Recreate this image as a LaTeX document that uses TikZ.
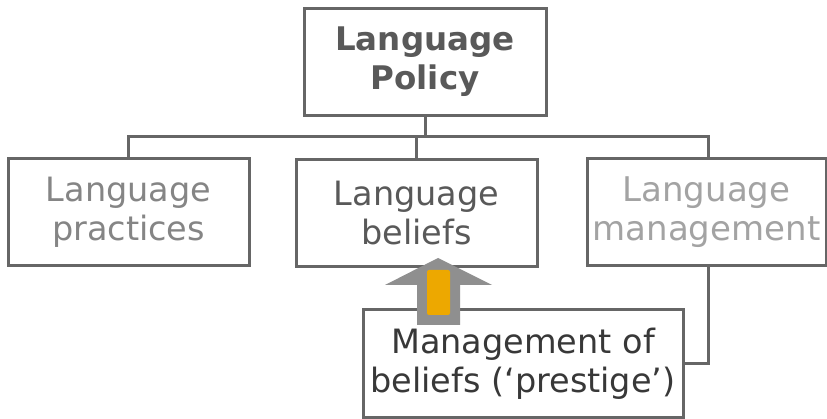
\documentclass[tikz,border=0pt]{standalone}
\usepackage{fontspec}
\setmainfont{DejaVu Sans}
\usetikzlibrary{calc}
\definecolor{boxline}{HTML}{666666}
\definecolor{arrowgray}{HTML}{8F8F8F}
\definecolor{orangefill}{HTML}{EDA800}
\begin{document}
\begin{tikzpicture}[x=1pt,y=-1pt,
  box/.style={draw=boxline, line width=3pt, fill=white, minimum width=#1,
    minimum height=107pt, align=center, inner sep=0pt,
    font=\fontsize{33.5}{39}\selectfont},
  box/.default=241pt,
  conn/.style={draw=boxline, line width=3pt}
]
\useasboundingbox (0,0) rectangle (827,419);
\fill[white] (0,0) rectangle (827,419);

\node[box=242pt, text=black!65, font=\fontsize{32.5}{39}\selectfont\bfseries] (top) at (425,62) {Language\\Policy};
\node[box, text=black!48] (left) at (128.5,212.5) {Language\\practices};
\node[box, text=black!65] (mid) at (416.5,213) {Language\\beliefs};
\node[box=239pt, text=black!36, font=\fontsize{34}{39}\selectfont] (right) at (706.5,212.5) {Language\\management};
\node[box=320pt, text=black!78, font=\fontsize{33.5}{39}\selectfont] (bot) at (523,363.5) {Management of\\beliefs (‘prestige’)};

\coordinate (bar) at (425,137);
\draw[conn] (top.south) -- (top.south|-bar) -| (left.north);
\draw[conn] (top.south|-bar) -| (mid.north);
\draw[conn] (top.south|-bar) -| ([xshift=1.5pt]right.north);
\draw[conn] ([xshift=1.5pt]right.south) |- (bot.east);

% up arrow
\fill[arrowgray] (438,258) -- (492,285) -- (460,285) -- (460,325) -- (417,325) -- (417,285) -- (385,285) -- cycle;
\fill[orangefill, rounded corners=2pt] (427,315) -- (427,270) -- (450,270) -- (450,315) -- cycle;
\end{tikzpicture}
\end{document}
